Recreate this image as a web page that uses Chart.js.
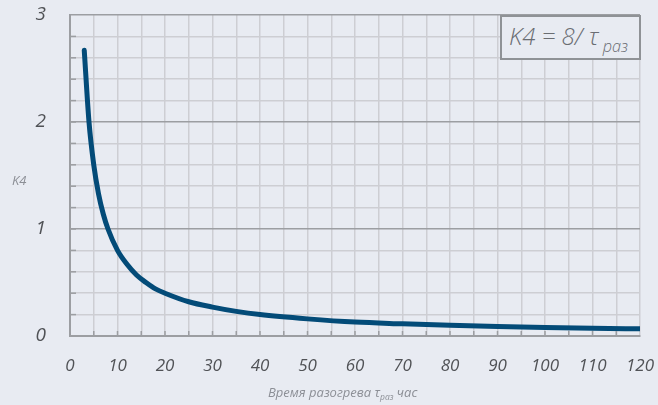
<!DOCTYPE html>
<html lang="ru">
<head>
<meta charset="UTF-8">
<title>K4</title>
<script src="https://cdn.jsdelivr.net/npm/chart.js"></script>
<style>
  body { margin: 0; background: #e8ebf2; font-family: 'Open Sans', sans-serif; }
  #wrap { position: relative; width: 658px; height: 405px; }
  canvas { position: absolute; left: 0; top: 0; }
  .lbl { position: absolute; font-style: italic; color: #8c8f96; white-space: nowrap; }
  #ytitle { left: 12px; top: 171px; font-size: 13px; }
  #xtitle { left: 268px; top: 383px; font-size: 13px; }
  #xtitle sub { font-size: 65%; vertical-align: -0.35em; }
  #formula { left: 500px; top: 15px; height: 41px; border: 2px solid #8f9296;
    background: #e8ebf2; font-size: 24px; color: #6a6d72; font-weight: 300; line-height: 38px;
    padding-left: 7px; box-sizing: content-box; width: 130px; }
  #formula sub { font-size: 68%; vertical-align: -0.45em; margin-left: 4px; }
</style>
</head>
<body>
<div id="wrap">
  <canvas id="chart" width="658" height="405"></canvas>
  <div class="lbl" id="ytitle">K4</div>
  <div class="lbl" id="xtitle">Время разогрева τ<sub>раз</sub> час</div>
  <div class="lbl" id="formula">K4 = 8/&nbsp;τ<sub>раз</sub></div>
</div>

<script>
  // время разогрева, час
  const tau = [3, 4, 5, 6, 7, 8, 10, 12, 14, 16, 18, 20, 25, 30, 35, 40, 50, 60, 70, 80, 90, 100, 110, 120];
  // K4
  const k4 = [2.67, 2.0, 1.6, 1.33, 1.14, 1.0, 0.8, 0.67, 0.57, 0.5, 0.44, 0.4, 0.32, 0.27, 0.23, 0.2,
    0.16, 0.13, 0.114, 0.1, 0.089, 0.08, 0.073, 0.067];
  const xTicks = [0, 10, 20, 30, 40, 50, 60, 70, 80, 90, 100, 110, 120];
  const yTicks = [0, 1, 2, 3];

  const isMajor = v => Math.abs(v - Math.round(v)) < 1e-6;

  // short darker ticks drawn inward from the axes
  const innerTicks = {
    id: 'innerTicks',
    afterDatasetsDraw(chart) {
      const { ctx, chartArea: a, scales: { x, y } } = chart;
      ctx.save();
      ctx.strokeStyle = '#9c9ea2';
      ctx.lineWidth = 1.5;
      for (let v = 5; v < 120; v += 5) {
        const px = x.getPixelForValue(v);
        ctx.beginPath(); ctx.moveTo(px, a.bottom); ctx.lineTo(px, a.bottom - 5); ctx.stroke();
      }
      for (let i = 1; i < 15; i++) {
        const py = y.getPixelForValue(i * 0.2);
        ctx.beginPath(); ctx.moveTo(a.left, py); ctx.lineTo(a.left + 6, py); ctx.stroke();
      }
      ctx.restore();
    }
  };

  new Chart(document.getElementById('chart'), {
    type: 'line',
    data: {
      datasets: [{
        data: tau.map((t, i) => ({ x: t, y: k4[i] })),
        borderColor: '#034b78',
        borderWidth: 5,
        pointRadius: 0,
        fill: false,
        cubicInterpolationMode: 'monotone',
        borderCapStyle: 'round'
      }]
    },
    options: {
      responsive: false,
      animation: false,
      layout: { padding: { top: 15, right: 18, left: 0, bottom: 0 } },
      plugins: { legend: { display: false }, tooltip: { enabled: false } },
      scales: {
        x: {
          type: 'linear', min: 0, max: 120,
          afterFit: s => { s.height = 69; s.paddingLeft = 0; s.paddingRight = 0; },
          afterBuildTicks: s => { s.ticks = Array.from({ length: 25 }, (_, i) => ({ value: i * 5 })); },
          ticks: {
            padding: 20,
            color: '#505256',
            font: { family: 'Open Sans', size: 17, style: 'italic' },
            maxRotation: 0,
            autoSkip: false,
            callback: v => xTicks.includes(v) ? String(v) : ''
          },
          grid: { color: '#cdced3', lineWidth: 1.5, drawTicks: false },
          border: { color: '#9c9ea2', width: 2 }
        },
        y: {
          min: 0, max: 3,
          afterFit: s => { s.width = 70; s.paddingTop = 0; s.paddingBottom = 0; },
          afterBuildTicks: s => { s.ticks = Array.from({ length: 16 }, (_, i) => ({ value: +(i * 0.2).toFixed(1) })); },
          ticks: {
            padding: 24,
            color: '#505256',
            font: { family: 'Open Sans', size: 19, style: 'italic' },
            autoSkip: false,
            callback: v => yTicks.includes(v) ? String(v) : ''
          },
          grid: {
            color: c => (isMajor(c.tick.value) && c.tick.value > 0) ? '#9c9ea2' : '#cdced3',
            lineWidth: 1.5,
            drawTicks: false
          },
          border: { color: '#9c9ea2', width: 2 }
        }
      }
    },
    plugins: [innerTicks]
  });
</script>
</body>
</html>
